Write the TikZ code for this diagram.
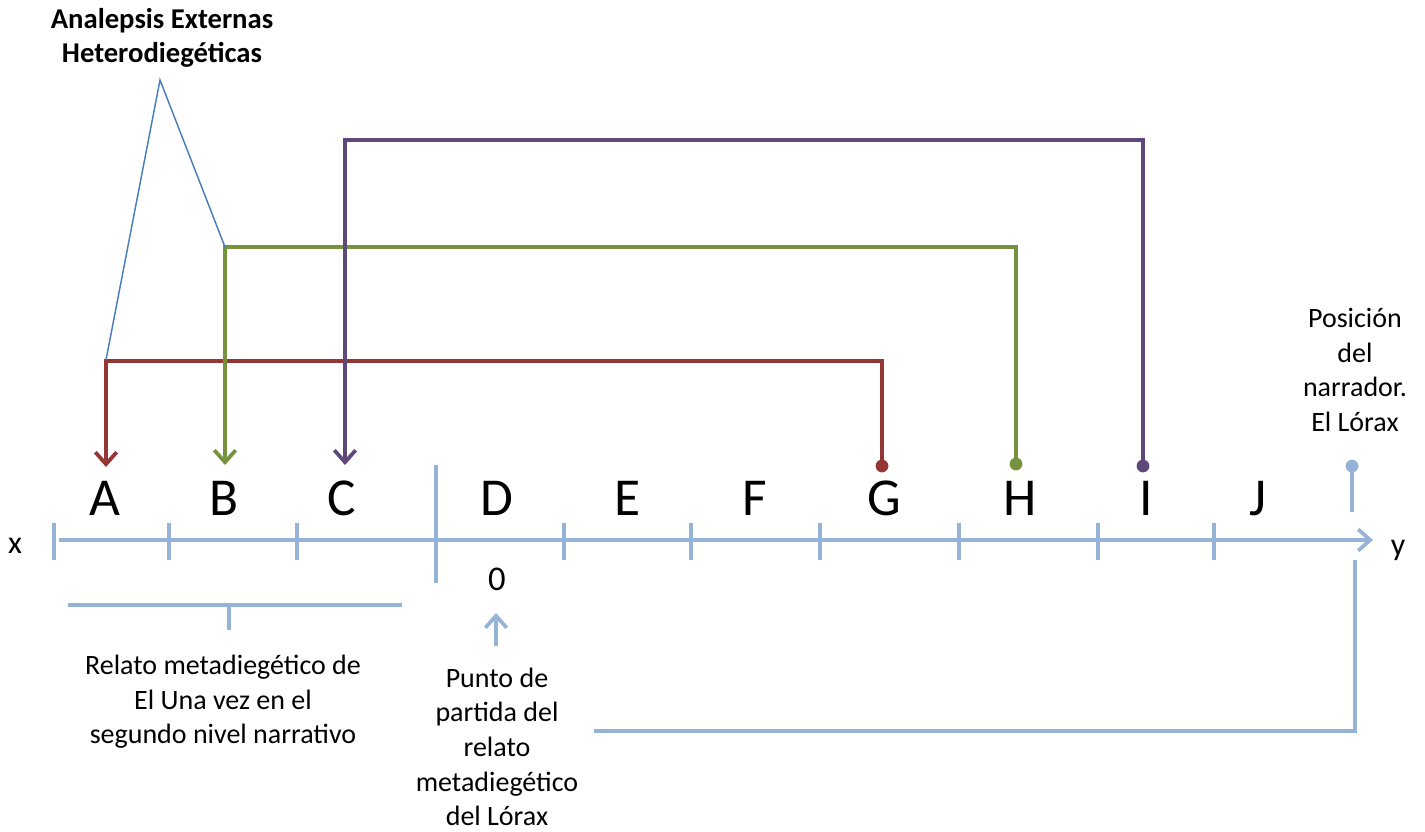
\documentclass[tikz,border=0pt]{standalone}
\usepackage{fontspec}
\setmainfont{Carlito}
\usetikzlibrary{arrows.meta}
\definecolor{cred}{HTML}{943634}
\definecolor{cgreen}{HTML}{76923C}
\definecolor{cpurple}{HTML}{5F497A}
\definecolor{lblue}{HTML}{95B3D7}
\definecolor{cblue}{HTML}{4A7EBB}
\begin{document}
\begin{tikzpicture}[x=0.75pt,y=-0.75pt,
  conn/.style={line width=2.8pt},
  bluel/.style={draw=lblue,line width=2.8pt},
  barb/.style={-{Straight Barb[length=9pt,width=16pt]}},
  letter/.style={inner sep=0pt,anchor=base,font=\fontsize{40}{48}\selectfont},
  lbl/.style={inner sep=0pt,align=center,font=\fontsize{21}{26}\selectfont},
  dotc/.style={radius=4.8pt}
]
\useasboundingbox (0,0) rectangle (1425,832);

% letters
\node[letter] (A) at (105,515) {A};
\node[letter] (B) at (224,515) {B};
\node[letter] (C) at (342,515) {C};
\node[letter] (D) at (497,515) {D};
\node[letter] (E) at (628,515) {E};
\node[letter] (F) at (755,515) {F};
\node[letter] (G) at (884,515) {G};
\node[letter] (H) at (1020,515) {H};
\node[letter] (I) at (1146,515) {I};
\node[letter] (J) at (1258,515) {J};

\node[inner sep=0pt,anchor=base,font=\fontsize{24}{28}\selectfont] (xl) at (15,553) {x};
\node[inner sep=0pt,anchor=base,font=\fontsize{24}{28}\selectfont] (yl) at (1398,555) {y};
\node[inner sep=0pt,anchor=base,font=\fontsize{26}{30}\selectfont] (zero) at (497,590) {0};

% axis
\coordinate (ax0) at (59,540);
\coordinate (ax1) at (1373,540);
\draw[bluel,barb] (ax0) -- (ax1);
\foreach \t in {54,169,297,564,691,820,959,1098,1214}
  \draw[bluel] (\t,523) -- (\t,560);
\draw[bluel] (436,465) -- (436,583);

% brace under A-C
\coordinate (br0) at (68,605);
\coordinate (br1) at (402,605);
\coordinate (brm) at (229,605);
\draw[bluel] (br0) -- (br1);
\draw[bluel] (brm) -- ++(0,25);

\node[lbl] (relato) at (223,702) {Relato metadiegético de\\El Una vez en el\\segundo nivel narrativo};

% start point
\node[lbl] (punto) at (497,747) {Punto de\\partida del\\relato\\metadiegético\\del Lórax};
\coordinate (up0) at (496,646);
\coordinate (up1) at (496,613);
\draw[bluel,barb] (up0) -- (up1);

% narrator
\node[lbl] (pos) at (1355,370) {Posición\\del\\narrador.\\El Lórax};
\coordinate (nd) at (1352,466);
\fill[lblue] (nd) circle[dotc];
\draw[bluel] (nd) -- ++(0,46);
\coordinate (nb0) at (1355,560);
\coordinate (nb1) at (594,731);
\draw[bluel] (nb0) |- (nb1);

% connectors
\coordinate (rG) at (882,466);
\coordinate (rA) at (106,467);
\fill[cred] (rG) circle[dotc];
\draw[cred,conn,barb] (rG) -- ++(0,-105) -| (rA);

\coordinate (gH) at (1016,464);
\coordinate (gB) at (225,465);
\fill[cgreen] (gH) circle[dotc];
\draw[cgreen,conn,barb] (gH) -- ++(0,-217) -| (gB);

\coordinate (pI) at (1143,466);
\coordinate (pC) at (345,465);
\fill[cpurple] (pI) circle[dotc];
\draw[cpurple,conn,barb] (pI) -- ++(0,-326) -| (pC);

% callout
\node[lbl,font=\fontsize{21.5}{26}\selectfont\bfseries] (ana) at (162,38) {Analepsis Externas\\Heterodiegéticas};
\coordinate (apex) at (160,80);
\coordinate (ca) at (106,360);
\coordinate (cc) at (225,247);
\draw[cblue,line width=1.1pt] (ca) -- (apex) -- (cc);
\end{tikzpicture}
\end{document}
